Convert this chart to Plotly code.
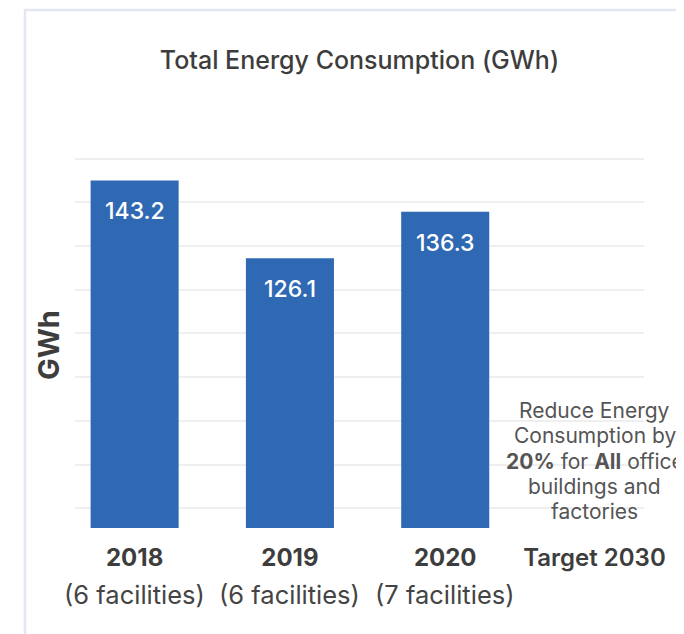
import plotly.graph_objects as go

# Data
years = ['2018', '2019', '2020', 'Target 2030']
consumption = [143.2, 126.1, 136.3, None]
facilities = ['(6 facilities)', '(6 facilities)', '(7 facilities)']
tick_text = ['<b>2018</b>', '<b>2019</b>', '<b>2020</b>', 'Target 2030\u00a0\u00a0']
target_note = ['Reduce Energy', 'Consumption by',
               '<b>20%</b> for <b>All</b> office', 'buildings and', 'factories']

font = 'Inter, Open Sans, sans-serif'
dark = '#3d3d3d'
bar_color = '#3069b3'

fig = go.Figure()
fig.add_trace(go.Bar(x=years, y=consumption, marker_color=bar_color,
                     marker_line_width=0, hoverinfo='x+y'))

# Value labels inside the top of each bar (category index as x)
for i, value in enumerate(consumption):
    if value is None:
        continue
    fig.add_annotation(x=i, y=value, text=f'{value:.1f}', showarrow=False,
                       yshift=-31,
                       font=dict(family=font, size=23, color='white', weight=500))

# Facility counts under the year labels
for i, label in enumerate(facilities):
    fig.add_annotation(x=i, y=0, yref='paper', yanchor='middle', text=label,
                       showarrow=False, yshift=-66,
                       font=dict(family=font, size=25.5, color='#444'))

# Target note, one annotation per line to keep the tight line spacing
for i, line in enumerate(target_note):
    fig.add_annotation(x=3, y=0.1766, yref='paper', xanchor='center',
                       yanchor='middle', text=line, showarrow=False,
                       xshift=-6, yshift=-(i - 2) * 25.3,
                       font=dict(family=font, size=21, color='#555'))

# y axis title
fig.add_annotation(x=-0.0475, y=0.484, xref='paper', yref='paper',
                   xanchor='center', yanchor='middle', text='<b>GWh</b>',
                   textangle=-90, showarrow=False,
                   font=dict(family=font, size=29, color=dark))

# card border (left and top edges)
fig.add_shape(type='path', xref='paper', yref='paper',
              path='M -0.0879,-0.4 L -0.0879,1.3707 L 1.2,1.3707',
              line=dict(color='#e4e6f1', width=2.5))

fig.update_layout(
    width=676, height=626,
    margin=dict(l=67, r=40, t=142, b=106),
    plot_bgcolor='white', paper_bgcolor='white',
    showlegend=False, bargap=0.433,
    title=dict(text='Total Energy Consumption (GWh)', x=0.5, xref='paper',
               y=1 - 52 / 626, yanchor='middle',
               font=dict(family=font, size=25, color=dark, weight=500)),
    xaxis=dict(type='category', range=[-0.384, 3.28], tickmode='array',
               tickvals=years, ticktext=tick_text, showgrid=False,
               showline=False, zeroline=False, ticks='', ticklabelstandoff=13,
               automargin=False,
               tickfont=dict(family=font, size=24, color=dark, weight=600)),
    yaxis=dict(range=[66.8, 149.9], tick0=80.74, dtick=9.61,
               showticklabels=False, showgrid=True, gridcolor='#efefef',
               gridwidth=2, zeroline=False, showline=False, ticks='',
               automargin=False),
)

fig.write_html('out.html')
